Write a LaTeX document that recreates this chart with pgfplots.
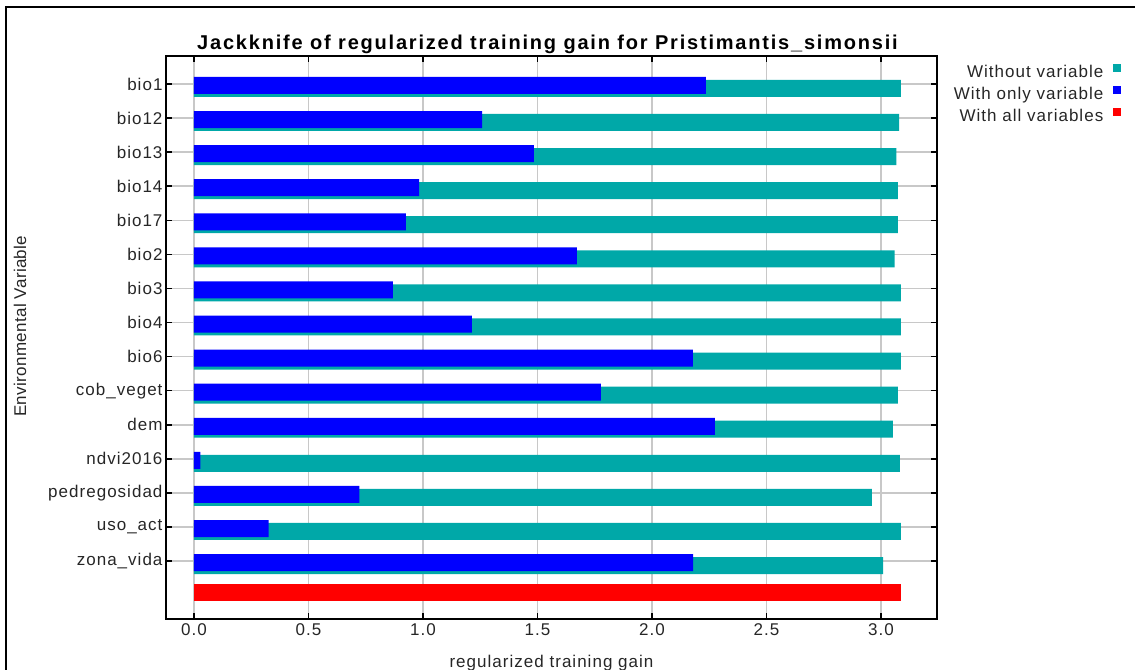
\documentclass[border=0pt]{standalone}
\usepackage{fontspec}
\setmainfont{Liberation Sans}[LetterSpace=6]
\newfontfamily\titlefont{Liberation Sans}[LetterSpace=9]
\newfontfamily\legfont{Liberation Sans}[LetterSpace=6]
\newfontfamily\ylabfont{Liberation Sans}[LetterSpace=2]
\usepackage{pgfplots}
\usepackage{pgfplotstable}
\pgfplotsset{compat=1.18}
\definecolor{mteal}{RGB}{0,168,168}
\definecolor{mblue}{RGB}{0,0,255}
\definecolor{mred}{RGB}{255,0,0}
\definecolor{mgrid}{RGB}{200,200,200}

\pgfplotstableread{
idx without only
0  3.087 2.236
1  3.080 1.258
2  3.067 1.485
3  3.074 0.983
4  3.074 0.926
5  3.060 1.672
6  3.087 0.869
7  3.087 1.214
8  3.087 2.179
9  3.074 1.777
10 3.052 2.275
11 3.083 0.028
12 2.961 0.722
13 3.087 0.326
14 3.010 2.180
}\jackdata

\pgfplotstableread{
idx all
15 3.087
}\alldata

\begin{document}
\begin{tikzpicture}[x=1bp,y=1bp]
\path[use as bounding box] (0,0) rectangle (1135,-670);
\draw[line width=2bp,black] (6,-672) -- (6,-7) -- (1137,-7);
\begin{axis}[
  at={(166bp,-619bp)}, anchor=south west,
  scale only axis, width=771bp, height=563bp,
  xmin=-0.122, xmax=3.245,
  ymin=-0.82, ymax=15.70, y dir=reverse,
  xtick={0,0.5,1,1.5,2,2.5,3},
  xticklabels={0.0,0.5,1.0,1.5,2.0,2.5,3.0},
  ytick={0,1,2,3,4,5,6,7,8,9,10,11,12,13,14},
  yticklabels={bio1,bio12,bio13,bio14,bio17,bio2,bio3,bio4,bio6,cob\_veget,dem,ndvi2016,pedregosidad,uso\_act,zona\_vida},
  tick align=inside, major tick length=6bp,
  tick style={black, line width=1.5bp},
  axis line style={black, line width=2bp},
  grid=major, major grid style={mgrid, line width=1.5bp},
  ticklabel style={font=\fontsize{17bp}{19bp}\selectfont, text=black!85},
  xticklabel style={yshift=-1bp},
  xlabel={regularized training gain},
  xlabel style={font=\fontsize{17bp}{19bp}\selectfont, text=black!85, at={(axis description cs:0.5,0)}, anchor=center, yshift=-44bp},
  ylabel={\ylabfont Environmental Variable},
  ylabel style={font=\fontsize{17bp}{19bp}\selectfont, text=black!85, at={(axis description cs:-0.1894,0.52)}, anchor=center},
  title={\titlefont\bfseries Jackknife of regularized training gain for Pristimantis\_simonsii},
  title style={font=\fontsize{20bp}{22bp}\selectfont, at={(axis description cs:0.5,1)}, anchor=center, yshift=6bp, xshift=-4bp},
  legend plot pos=right,
  legend cell align=right,
  legend style={draw=none, fill=none, at={(axis description cs:1.2425,0.993)}, anchor=north east,
    font=\fontsize{17bp}{19bp}\legfont\selectfont, text=black!85,
    nodes={inner sep=3.5bp, text height=12bp, text depth=3.5bp},
    column sep=6bp, row sep=-0.5bp},
]
\addplot[xbar, bar width=17bp, bar shift=0pt, fill=mteal, draw=none,
  legend image code/.code={\fill[mteal] (0bp,1bp) rectangle (8bp,9bp);}]
  table[x=without, y expr=\thisrow{idx}+0.13] {\jackdata};
\addlegendentry{Without variable}
\addplot[xbar, bar width=17bp, bar shift=0pt, fill=mblue, draw=none,
  legend image code/.code={\fill[mblue] (0bp,1bp) rectangle (8bp,9bp);}]
  table[x=only, y expr=\thisrow{idx}+0.044] {\jackdata};
\addlegendentry{With only variable}
\addplot[xbar, bar width=17bp, bar shift=0pt, fill=mred, draw=none,
  legend image code/.code={\fill[mred] (0bp,1bp) rectangle (8bp,9bp);}]
  table[x=all, y expr=\thisrow{idx}-0.075] {\alldata};
\addlegendentry{With all variables}
\end{axis}
\end{tikzpicture}
\end{document}
